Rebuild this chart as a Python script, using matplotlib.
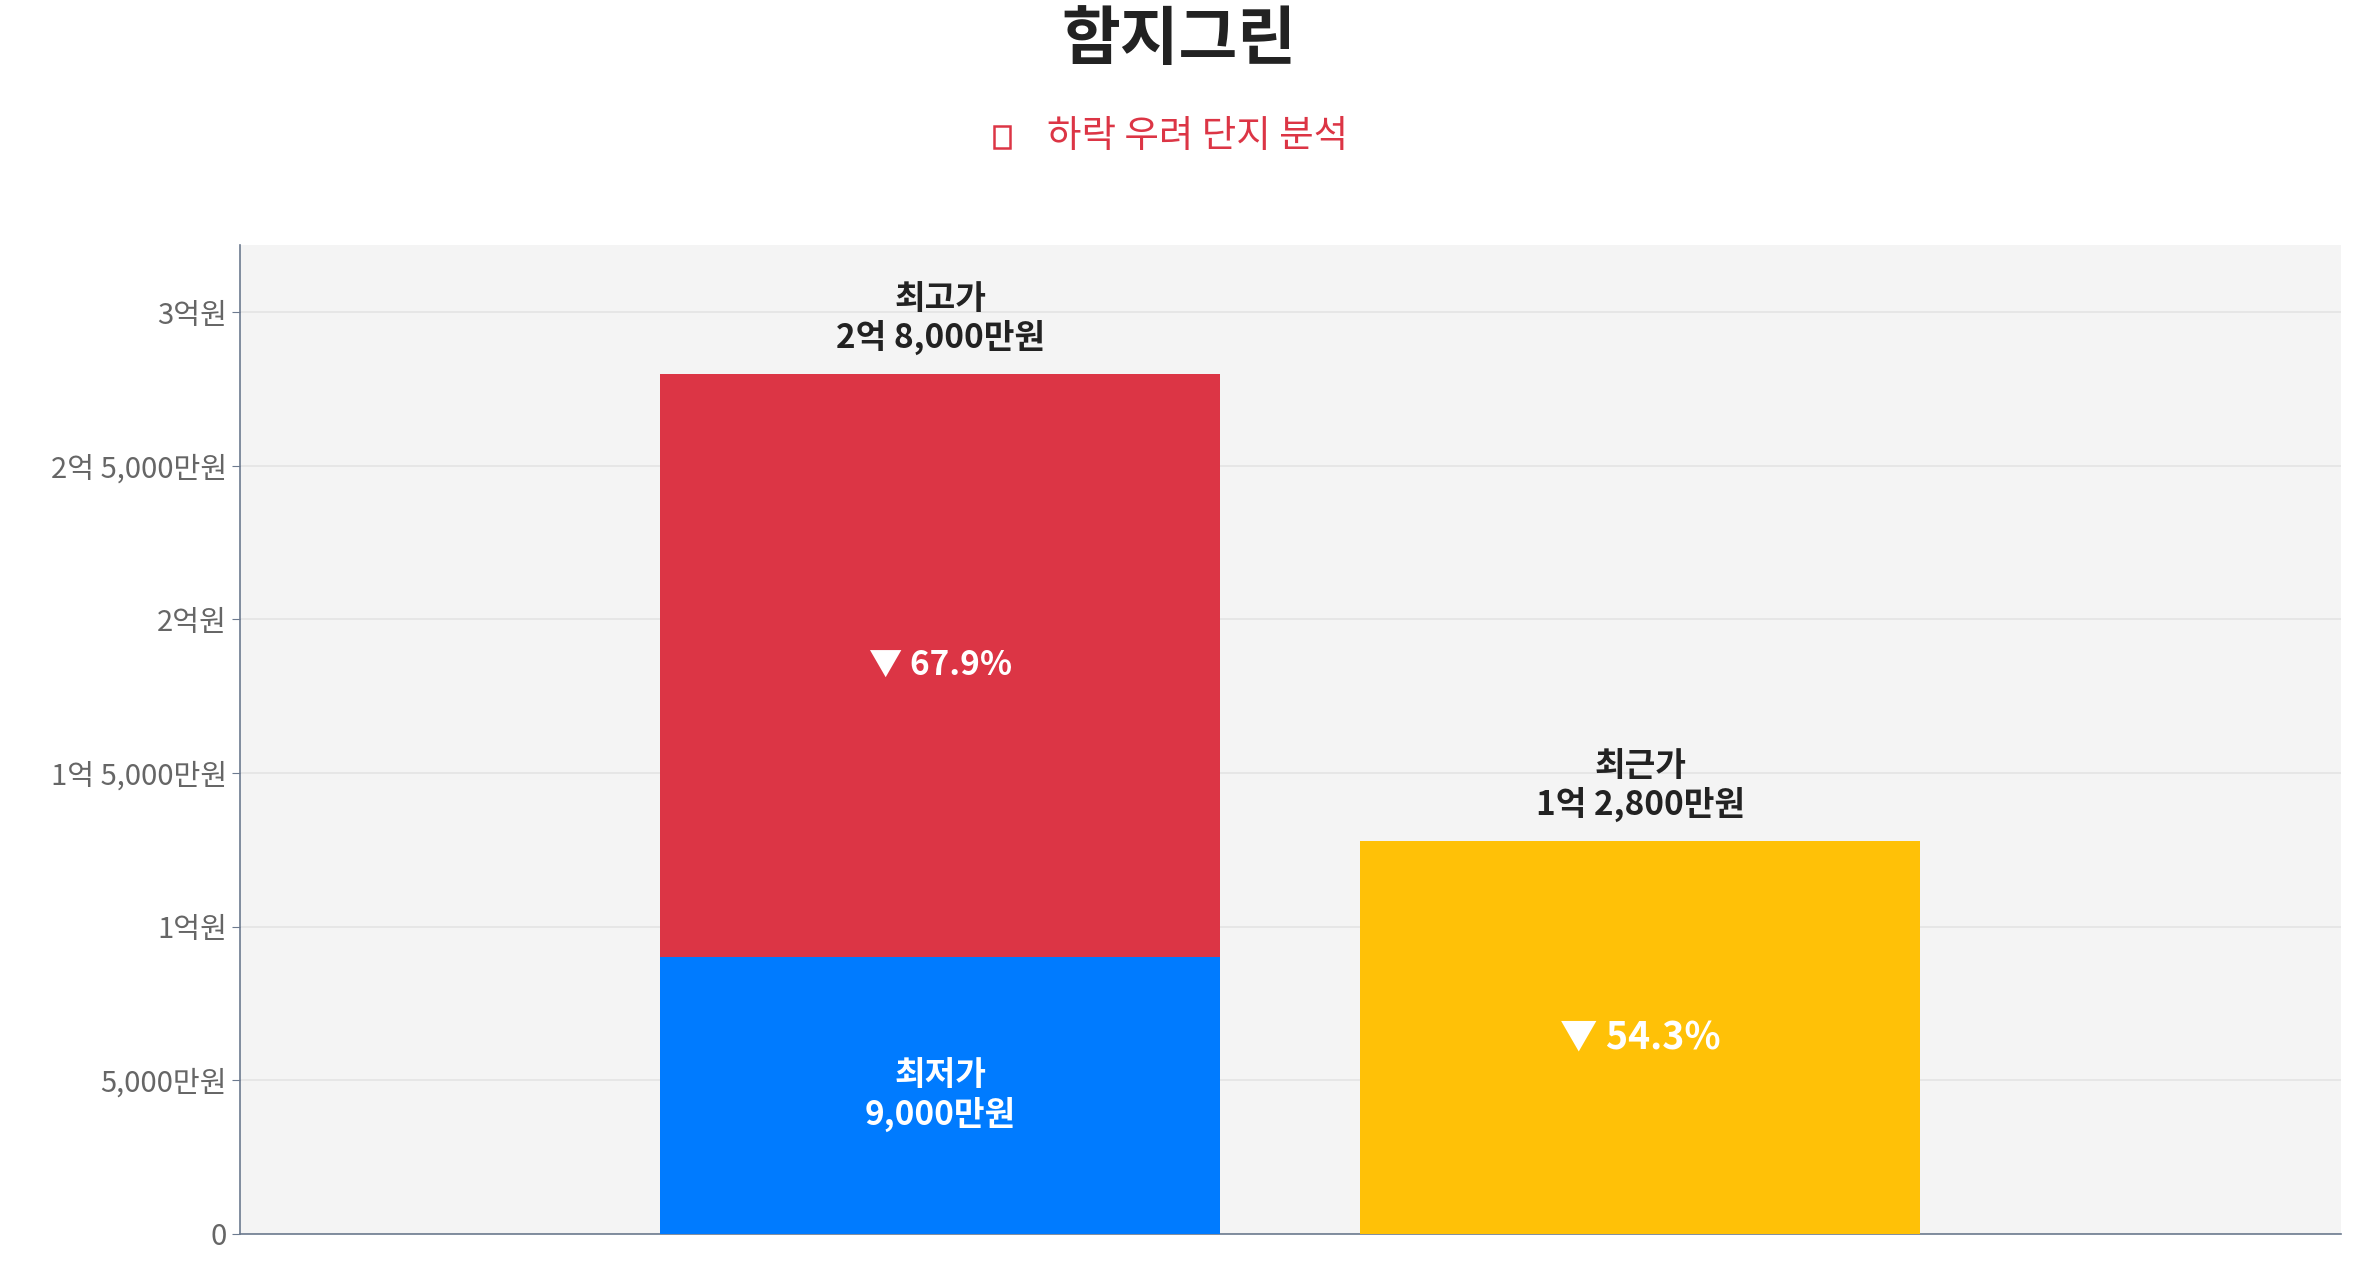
import matplotlib
matplotlib.use("Agg")
import matplotlib.pyplot as plt
import matplotlib.patches as patches
from matplotlib.ticker import FuncFormatter

plt.rcParams['font.family'] = ['Noto Sans CJK KR', 'DejaVu Sans']

# values in 원
low_price = 90_000_000
high_price = 280_000_000
recent_price = 128_000_000
drop_high = "▼ 67.9%"
drop_recent = "▼ 54.3%"
yticks = [0, 50_000_000, 100_000_000, 150_000_000, 200_000_000, 250_000_000, 300_000_000]


def won(v, pos=None):
    v = int(round(v))
    eok, man = divmod(v // 10000, 10000)
    if v == 0:
        return "0"
    if eok and man:
        return f"{eok}억 {man:,}만원"
    if eok:
        return f"{eok}억원"
    return f"{man:,}만원"


fig = plt.figure(figsize=(23.57, 12.68), dpi=100)
ax = fig.add_axes([0.102, 0.027, 0.891, 0.780])
ax.set_facecolor("#f4f4f4")

w = 0.8
ax.bar(0, low_price, width=w, color="#007bff", zorder=3)
ax.bar(0, high_price - low_price, bottom=low_price, width=w, color="#dc3545", zorder=3)
ax.bar(1, recent_price, width=w, color="#ffc107", zorder=3)

ax.text(0, low_price / 2, f"최저가\n{won(low_price)}", ha="center", va="center",
        color="white", fontsize=24, fontweight="bold", linespacing=1.15, zorder=4)
ax.text(0, (low_price + high_price) / 2, drop_high, ha="center", va="center",
        color="white", fontsize=24, fontweight="bold", zorder=4)
ax.text(0, high_price + 6e6, f"최고가\n{won(high_price)}", ha="center", va="bottom",
        color="#222", fontsize=24, fontweight="bold", linespacing=1.15, zorder=4)
ax.text(1, recent_price / 2, drop_recent, ha="center", va="center",
        color="white", fontsize=27, fontweight="bold", zorder=4)
ax.text(1, recent_price + 6e6, f"최근가\n{won(recent_price)}", ha="center", va="bottom",
        color="#222", fontsize=24, fontweight="bold", linespacing=1.15, zorder=4)

ax.set_xlim(-1, 2)
ax.set_ylim(0, 322_000_000)
ax.set_yticks(yticks)
ax.yaxis.set_major_formatter(FuncFormatter(won))
ax.set_xticks([])
ax.tick_params(axis="y", labelsize=21, colors="#666", length=6)
ax.tick_params(axis="y", color="#6c7a8f")
ax.grid(axis="y", color="#e4e4e4", linewidth=1.2, zorder=0)
for s in ["top", "right"]:
    ax.spines[s].set_visible(False)
for s in ["left", "bottom"]:
    ax.spines[s].set_color("#6c7a8f")
    ax.spines[s].set_linewidth(1.2)

fig.text(0.5, 0.968, "함지그린", ha="center", va="center", fontsize=46,
         fontweight="bold", color="#222")
fig.text(0.508, 0.892, "하락 우려 단지 분석", ha="center", va="center",
         fontsize=27, color="#dc3545")
# the reference shows the emoji as an empty box
fig.patches.append(patches.Rectangle((0.4218, 0.883), 0.0068, 0.018, transform=fig.transFigure,
                                     fill=False, edgecolor="#dc3545", linewidth=1.8))

fig.savefig("out.png", dpi=100)
